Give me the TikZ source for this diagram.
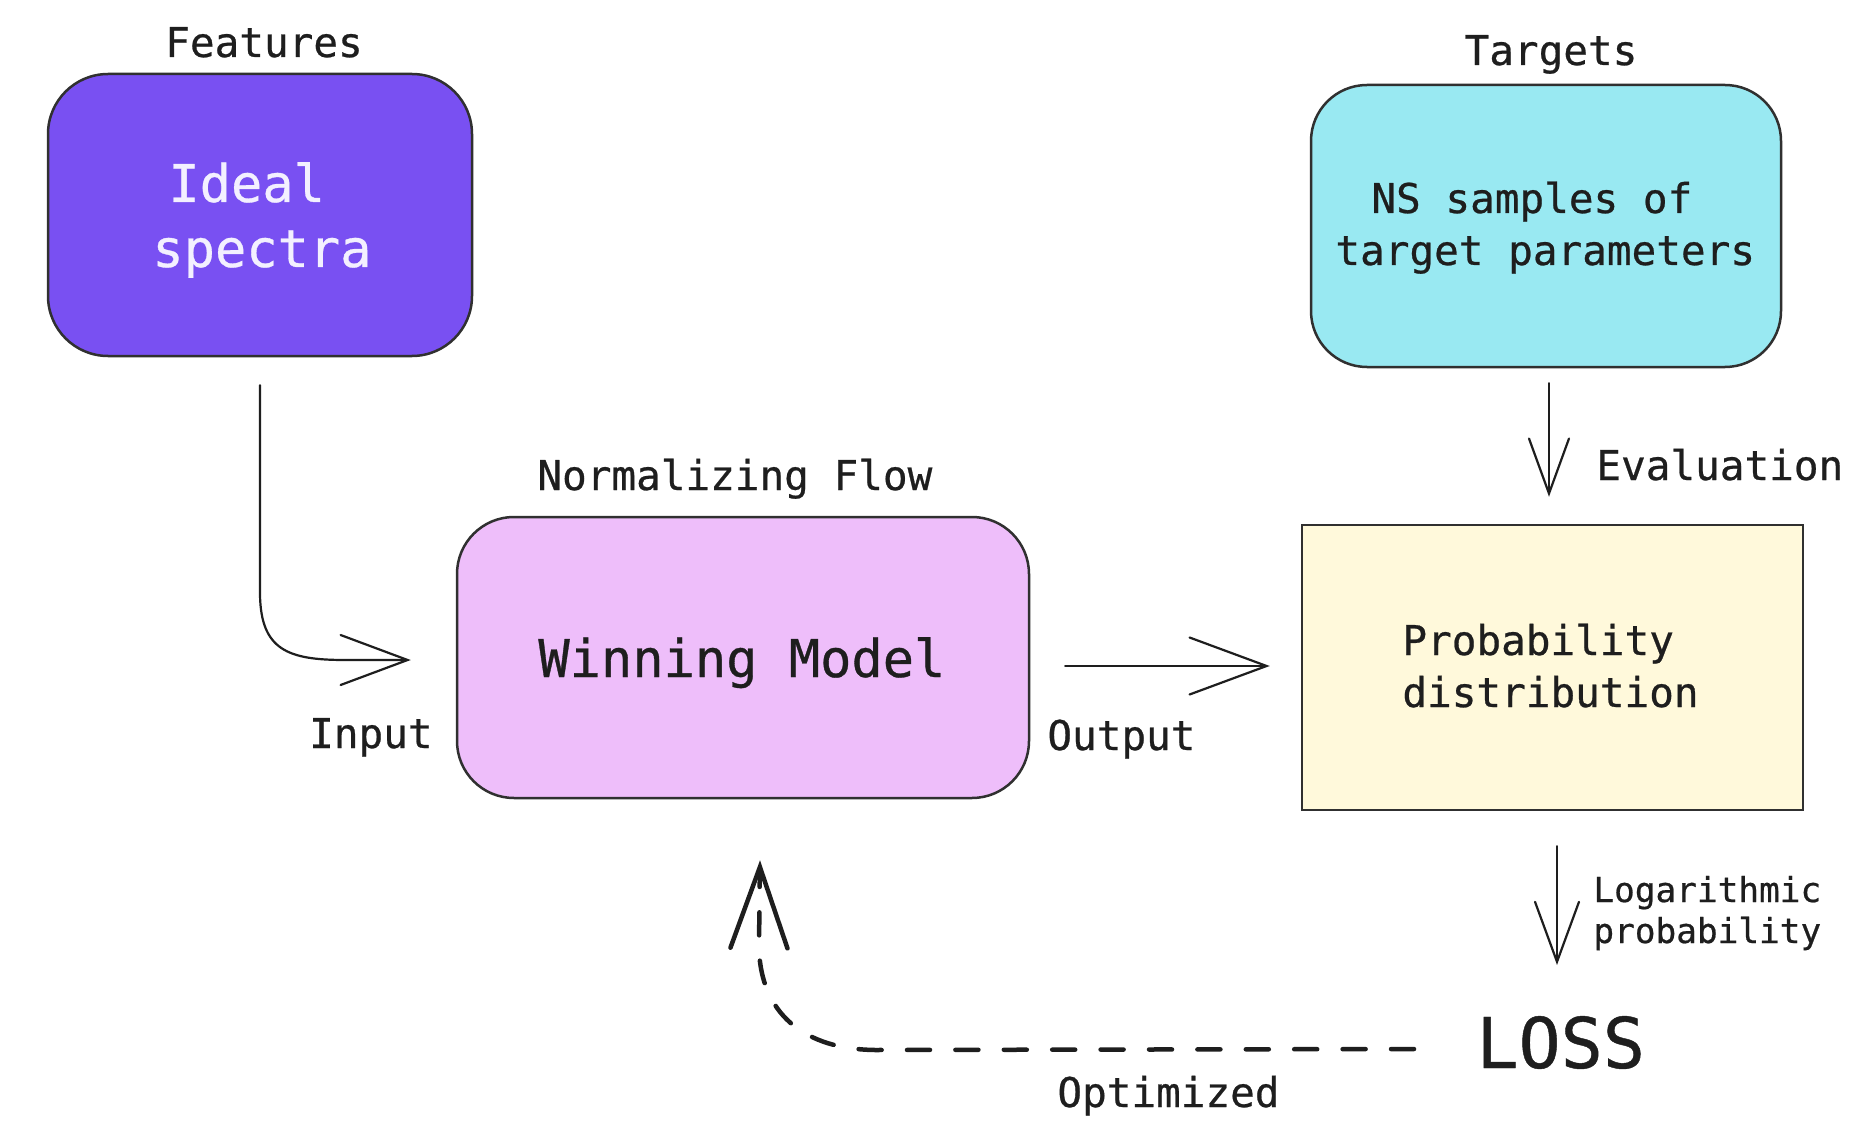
\documentclass[tikz,border=0pt]{standalone}
\usepackage{fontspec}
\newfontfamily\dmono[FakeBold=0.6]{DejaVu Sans Mono}
\usetikzlibrary{arrows.meta,calc}
\definecolor{violetc}{HTML}{7950F2}
\definecolor{cyanc}{HTML}{99E9F2}
\definecolor{pinkc}{HTML}{EEBEFA}
\definecolor{yellowc}{HTML}{FFF9DB}
\definecolor{bordc}{HTML}{303030}
\definecolor{textc}{HTML}{1E1E1E}
\definecolor{lighttext}{HTML}{F3F0FF}
\begin{document}
\begin{tikzpicture}[x=0.5pt,y=-0.5pt,
  box/.style={draw=bordc, line width=1.25pt, inner sep=0pt},
  lbl/.style={inner sep=0pt, text=textc, font=\dmono\fontsize{20.5pt}{26pt}\selectfont},
  biglbl/.style={inner sep=0pt, text=textc, font=\dmono\fontsize{26pt}{33pt}\selectfont},
  smalllbl/.style={inner sep=0pt, text=textc, font=\dmono\fontsize{17.2pt}{21pt}\selectfont},
  losslbl/.style={inner sep=0pt, text=textc, font=\dmono\fontsize{35pt}{42pt}\selectfont},
  conn/.style={draw=textc, line width=1.1pt, line cap=round, line join=round},
  optconn/.style={draw=textc, line width=2.25pt, line cap=round, dash pattern=on 11.5pt off 12.7pt}
]
\useasboundingbox[fill=white] (0,0) rectangle (1853,1134);

% boxes
\node[box, fill=violetc, rounded corners=30pt, minimum width=212pt, minimum height=141pt] (feat) at (260,215) {};
\node[box, fill=cyanc, rounded corners=28pt, minimum width=235pt, minimum height=141pt] (targ) at (1546,226) {};
\node[box, fill=pinkc, rounded corners=28.5pt, minimum width=286pt, minimum height=140.5pt] (model) at (743,657.5) {};
\node[box, fill=yellowc, minimum width=250.5pt, minimum height=142.5pt] (prob) at (1552.5,667.5) {};

% labels
\node[lbl, anchor=base] (featlbl) at (264,57) {Features};
\node[biglbl, text=lighttext, anchor=base west] (ideal) at (168,202) {Ideal};
\node[biglbl, text=lighttext, anchor=base west] (spectra) at (152,267) {spectra};

\node[lbl, anchor=base] (targlbl) at (1551,65) {Targets};
\node[lbl, anchor=base west] (ns) at (1371,213) {NS samples of};
\node[lbl, anchor=base west] (tpar) at (1335,265) {target parameters};

\node[lbl, anchor=base west] (nflbl) at (537,490) {Normalizing Flow};
\node[biglbl, anchor=base west] (wm) at (538,677) {Winning Model};
\node[lbl, anchor=base east] (inlbl) at (433,748) {Input};
\node[lbl, anchor=base west] (outlbl) at (1047,750) {Output};

\node[lbl, anchor=base west] (evallbl) at (1596,480) {Evaluation};
\node[lbl, anchor=base west] (prob1) at (1402,655) {Probability};
\node[lbl, anchor=base west] (prob2) at (1402,707) {distribution};

\node[smalllbl, anchor=base west] (log1) at (1593,902) {Logarithmic};
\node[smalllbl, anchor=base west] (log2) at (1593,943) {probability};

\node[losslbl, anchor=base west] (loss) at (1476,1068) {LOSS};
\node[lbl, anchor=base west] (optlbl) at (1057,1107) {Optimized};

% connectors
\coordinate (inEnd) at ($(model.west)+(-45,2.5)$);
\draw[conn, -{Straight Barb[length=33.5pt,width=25pt,line cap=round]}]
  ($(feat.south)+(0,28)$) -- (260,595) .. controls (261,650) and (288,660) .. (345,660) -- (inEnd);

\draw[conn, -{Straight Barb[length=38.5pt,width=28.5pt,line cap=round]}]
  ($(model.east)+(35,8.5)$) -- ($(prob.west)+(-31,-1.5)$);

\draw[conn, -{Straight Barb[length=27.5pt,width=20pt,line cap=round]}]
  ($(targ.south)+(3,15)$) -- ($(prob.north)+(-3.5,-27)$);

\coordinate (logEnd) at (1557,965);
\draw[conn, -{Straight Barb[length=30pt,width=22pt,line cap=round]}]
  ($(prob.south)+(4.5,35)$) -- (logEnd);

\coordinate (optStart) at ($(loss.west)+(-62,6.5)$);
\coordinate (optEnd) at ($(model.south)+(17,61)$);
\draw[optconn, -{Straight Barb[length=40.5pt,width=28.5pt,line cap=round]}]
  (optStart) -- (875,1050) .. controls (795,1049) and (759,1005) .. (759,945) -- (optEnd);
\end{tikzpicture}
\end{document}
